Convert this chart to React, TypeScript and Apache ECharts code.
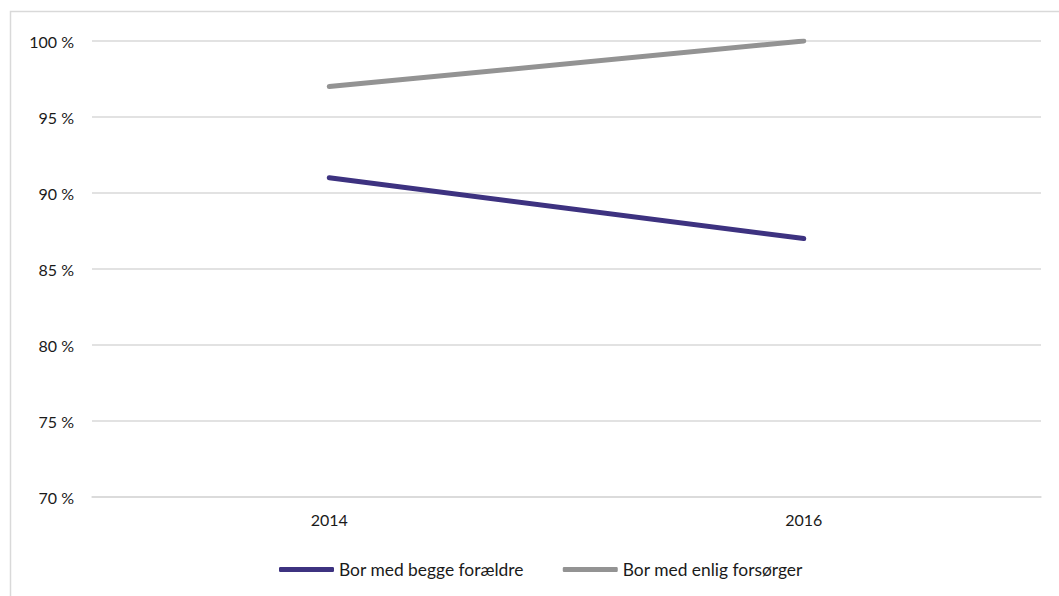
import React, { useEffect, useRef } from "react";
import * as echarts from "echarts";

const categories = ["2014", "2016"];
const seriesNames = ["Bor med begge forældre", "Bor med enlig forsørger"];
const bothParents = [91, 87];
const singleParent = [97, 100];
const yTicks = { min: 70, max: 100, interval: 5 };

export default function App() {
  const ref = useRef<HTMLDivElement>(null);
  useEffect(() => {
    if (!ref.current) return;
    const chart = echarts.init(ref.current, undefined, { renderer: "svg" });
    const font = "Lato, 'Noto Sans', sans-serif";
    chart.setOption({
      animation: false,
      backgroundColor: "#ffffff",
      textStyle: { fontFamily: font },
      graphic: [
        {
          type: "rect",
          shape: { x: 10.5, y: 11.5, width: 1200, height: 800 },
          style: { fill: "none", stroke: "#d9d9d9", lineWidth: 1.5 },
          silent: true,
        },
      ],
      grid: { left: 92, right: 18, top: 41, bottom: 99, containLabel: false },
      legend: {
        top: 556,
        left: 274,
        itemWidth: 55,
        itemHeight: 5,
        itemGap: 39,
        icon: "roundRect",
        textStyle: { fontSize: 17.4, color: "#1a1a1a", fontFamily: font },
        data: seriesNames,
      },
      xAxis: {
        type: "category",
        data: categories,
        boundaryGap: true,
        axisLine: { lineStyle: { color: "#d9d9d9", width: 1.5 } },
        axisTick: { length: 5, lineStyle: { color: "#d9d9d9", width: 1.5 } },
        axisLabel: { fontSize: 16, color: "#1a1a1a", margin: 14, fontFamily: font },
        splitLine: { show: false },
      },
      yAxis: {
        type: "value",
        min: yTicks.min,
        max: yTicks.max,
        interval: yTicks.interval,
        axisLine: { show: false },
        axisTick: { show: false },
        axisLabel: { fontSize: 16, color: "#1a1a1a", margin: 18, formatter: "{value} %", fontFamily: font },
        splitLine: { lineStyle: { color: "#d9d9d9", width: 1.5 } },
      },
      series: [
        {
          name: seriesNames[0],
          type: "line",
          data: bothParents,
          symbol: "none",
          lineStyle: { color: "#3d3280", width: 5, cap: "round" },
          itemStyle: { color: "#3d3280" },
        },
        {
          name: seriesNames[1],
          type: "line",
          data: singleParent,
          symbol: "none",
          lineStyle: { color: "#939393", width: 5, cap: "round" },
          itemStyle: { color: "#939393" },
        },
      ],
    });
    return () => chart.dispose();
  }, []);
  return (
    <div
      ref={ref}
      style={{ position: "fixed", left: 0, top: 0, width: 1059, height: 596 }}
    />
  );
}
